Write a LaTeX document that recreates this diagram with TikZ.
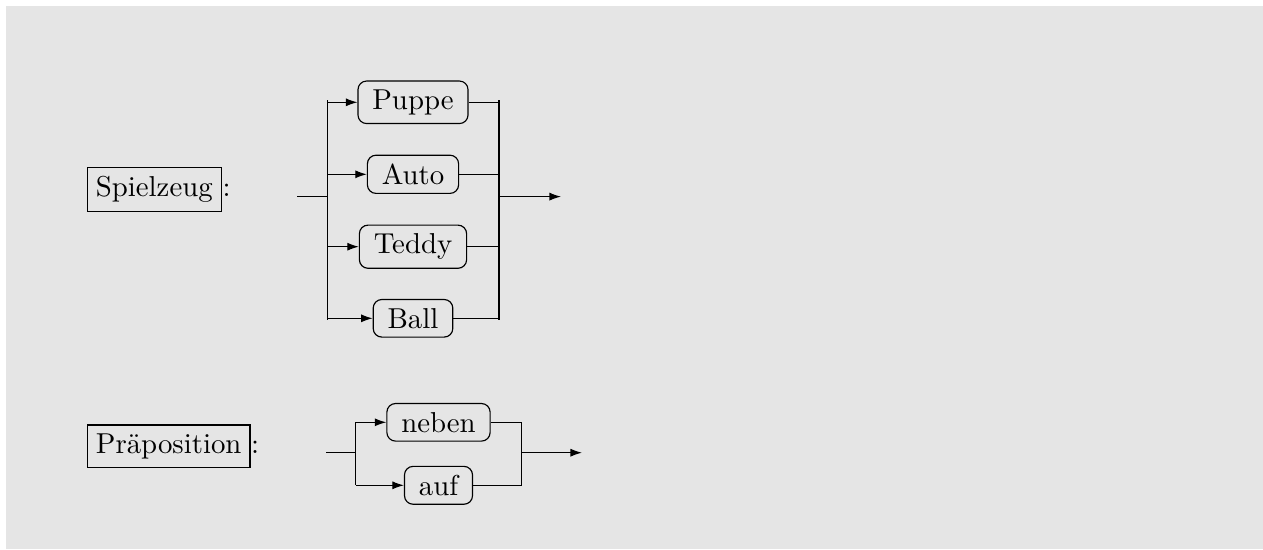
\documentclass[tikz,border=0pt]{standalone}
\usetikzlibrary{arrows.meta}
\tikzset{
  term/.style={draw, rounded corners=3pt, inner xsep=5pt, inner ysep=3pt},
  rulename/.style={draw, inner sep=3pt, anchor=base west},
  arr/.style={-{Latex[length=4pt,width=2.8pt]}}
}
\begin{document}
\begin{tikzpicture}[x=0.3472pt,y=-0.3472pt]
\useasboundingbox (0,0) rectangle (1263,549);
\fill[gray!20] (6,6) rectangle (1263,549);
% Spielzeug
\node[rulename] (spielzeug) at (86.7,196.6) {Spielzeug};
\node[anchor=base west, inner sep=0pt] (colon1) at (spielzeug.base east) {:};
\coordinate (in1) at (297,196.6);
\coordinate (split1) at (327.7,196.6);
\coordinate (join1) at (499,196.6);
\coordinate (out1) at (561,196.6);
\node[term] (puppe) at (413,102.3) {Puppe};
\node[term] (auto) at (413,174.3) {Auto};
\node[term] (teddy) at (413,246.7) {Teddy};
\node[term] (ball) at (413,318.3) {Ball};
\draw (in1) -- (split1);
\draw ([yshift=0.7pt]split1 |- puppe) -- ([yshift=-0.7pt]split1 |- ball);
\draw ([yshift=0.7pt]join1 |- puppe) -- ([yshift=-0.7pt]join1 |- ball);
\foreach \t in {puppe,auto,teddy,ball}{
  \draw[arr] (split1 |- \t) -- (\t.west);
  \draw (\t.east) -- (join1 |- \t);
}
\draw[arr] (join1) -- (out1);
% Praeposition
\node[rulename] (praeposition) at (86.7,453.3) {Präposition};
\node[anchor=base west, inner sep=0pt] (colon2) at (praeposition.base east) {:};
\coordinate (in2) at (326,452.7);
\coordinate (split2) at (355.7,452.7);
\coordinate (join2) at (521.7,452.7);
\coordinate (out2) at (582,452.7);
\node[term] (neben) at (438.5,422.3) {neben};
\node[term] (auf) at (438.5,485.3) {auf};
\draw (in2) -- (split2);
\draw (split2 |- neben) -- (split2 |- auf);
\draw (join2 |- neben) -- (join2 |- auf);
\foreach \t in {neben,auf}{
  \draw[arr] (split2 |- \t) -- (\t.west);
  \draw (\t.east) -- (join2 |- \t);
}
\draw[arr] (join2) -- (out2);
\end{tikzpicture}
\end{document}
